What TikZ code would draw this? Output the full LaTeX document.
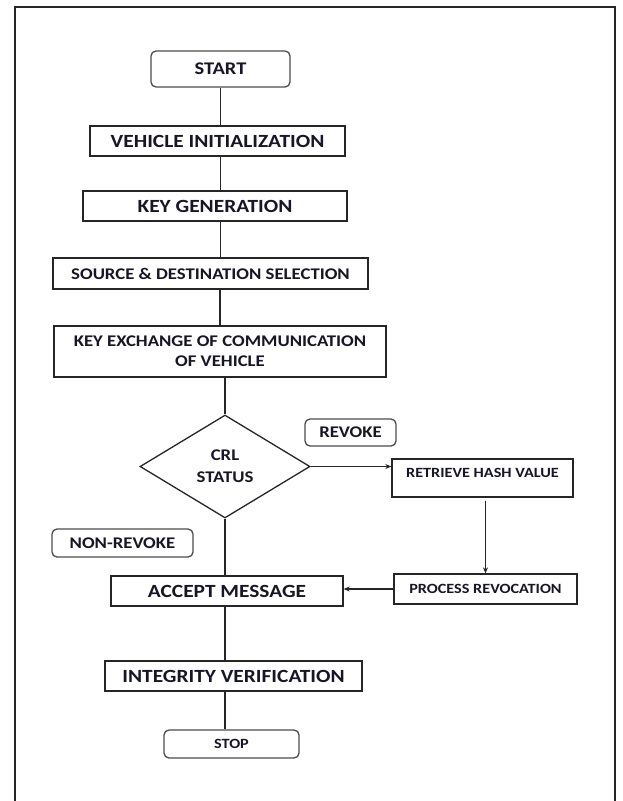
\documentclass[tikz,border=0pt]{standalone}
\usepackage{fontspec}
\newfontfamily\lblfont{Carlito}[FakeStretch=1.15]
\usetikzlibrary{shapes.geometric,arrows.meta}
\definecolor{txt}{RGB}{22,22,40}
\newcommand\FBig{\lblfont\bfseries\fontsize{18.6}{20}\selectfont}
\newcommand\FMed{\lblfont\bfseries\fontsize{16.3}{20}\selectfont}
\newcommand\FSml{\lblfont\bfseries\fontsize{14.1}{16}\selectfont}
\newcommand\FDia{\lblfont\bfseries\fontsize{16.3}{22}\selectfont}
\newcommand\FStart{\lblfont\bfseries\fontsize{17.8}{20}\selectfont}
\begin{document}
\begin{tikzpicture}[x=1pt,y=-1pt,
  box/.style={draw=black!85, line width=1.3pt, inner sep=0pt, text=txt, align=center},
  rbox/.style={box, draw=black!70, rounded corners=5pt},
  conn/.style={draw=black!85, line width=1.2pt},
  arr/.style={conn, -{Stealth[length=6pt,width=5pt]}}]
\useasboundingbox (0,0) rectangle (622,801);
\clip (0,0) rectangle (622,801);
\fill[white] (0,0) rectangle (622,801);
\draw[line width=2pt, black!85] (15,805) -- (15,7) -- (615,7) -- (615,805);

\node[rbox, minimum width=139pt, minimum height=36pt, font=\FStart] (start) at (220.5,69) {START};
\node[box, minimum width=255pt, minimum height=30pt, font=\FBig] (veh) at (217.5,141) {VEHICLE INITIALIZATION};
\node[box, minimum width=264pt, minimum height=30pt, font=\FBig] (kg) at (215,206) {KEY GENERATION};
\node[box, minimum width=315pt, minimum height=31pt, font=\FMed] (src) at (210.5,273.5) {SOURCE \& DESTINATION SELECTION};
\node[box, minimum width=332pt, minimum height=51pt, font=\FMed] (kx) at (220,351.5) {KEY EXCHANGE OF COMMUNICATION\\OF VEHICLE};
\node[box, shape=diamond, minimum width=170pt, minimum height=103pt, font=\FDia] (dia) at (225,466.5) {CRL\\STATUS};
\node[rbox, minimum width=91pt, minimum height=27pt, font=\FMed] (rev) at (350.5,432.5) {REVOKE};
\node[box, minimum width=181pt, minimum height=38pt,
  label={[text=txt, font=\FSml, yshift=5.5pt]center:RETRIEVE HASH VALUE}] (ret) at (482.5,478) {};
\node[box, minimum width=183pt, minimum height=30pt, font=\FSml] (proc) at (485.5,589) {PROCESS REVOCATION};
\node[rbox, minimum width=141pt, minimum height=28pt, font=\FMed] (nrev) at (122.5,543) {NON-REVOKE};
\node[box, minimum width=232pt, minimum height=30pt, font=\FBig] (acc) at (227,591) {ACCEPT MESSAGE};
\node[box, minimum width=257pt, minimum height=30pt, font=\FBig] (integ) at (233.5,676) {INTEGRITY VERIFICATION};
\node[rbox, minimum width=135pt, minimum height=28pt, font=\FSml] (stop) at (231.5,744) {STOP};

\draw[conn] (start.south) -- (start.south |- veh.north);
\draw[conn] (veh.south -| start.south) -- (kg.north -| start.south);
\draw[conn] (kg.south -| start.south) -- (src.north -| start.south);
\draw[conn] (src.south -| kx.north) -- (kx.north);
\draw[conn] (kx.south -| dia.north) -- (dia.north);
\draw[conn] (dia.south) -- (dia.south |- acc.north);
\draw[conn] (acc.south -| dia.south) -- (integ.north -| dia.south);
\draw[conn] (integ.south -| dia.south) -- (stop.north -| dia.south);
\draw[arr] (dia.east) -- (dia.east -| ret.west);
\draw[arr, shorten <=3pt] (ret.south -| proc.north) -- (proc.north);
\draw[arr] (proc.west) -- (proc.west -| acc.east);
\end{tikzpicture}
\end{document}
